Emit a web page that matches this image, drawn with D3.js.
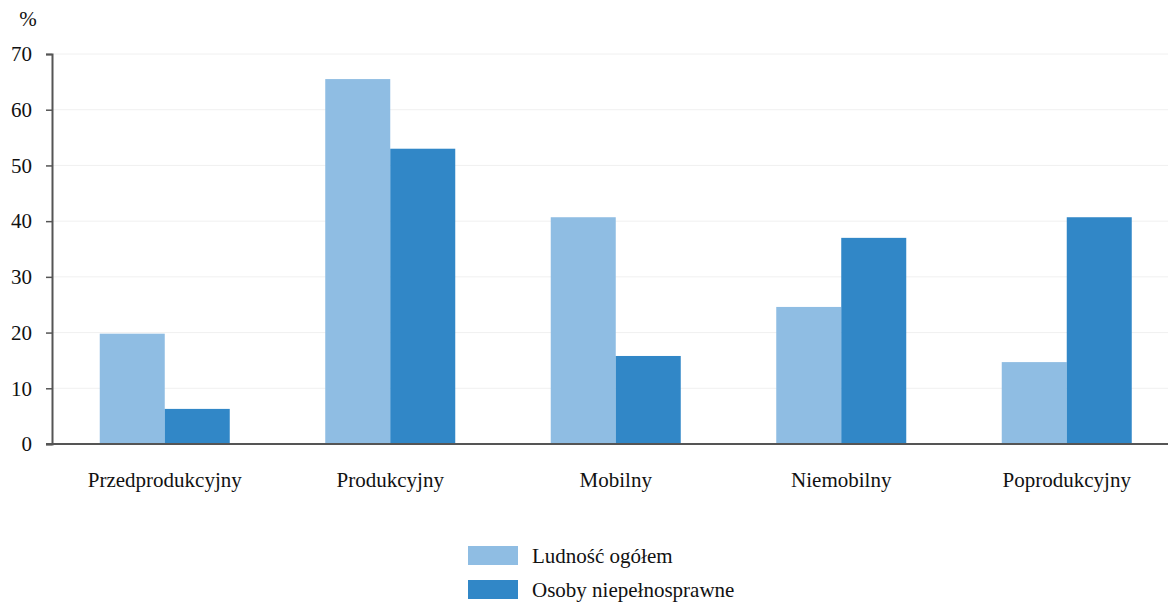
<!DOCTYPE html>
<html><head><meta charset="utf-8">
<script src="https://cdn.jsdelivr.net/npm/d3@7"></script>
<style>body{margin:0;background:#fff}svg{display:block}text{font-family:"Liberation Serif","Times New Roman",serif;fill:#111}</style>
</head><body><svg id="c" width="1168" height="605"></svg>
<script>
const categories = ["Przedprodukcyjny","Produkcyjny","Mobilny","Niemobilny","Poprodukcyjny"];
const seriesNames = ["Ludność ogółem","Osoby niepełnosprawne"];
const ludnosc = [19.8, 65.5, 40.7, 24.6, 14.7];
const niepelnosprawne = [6.3, 53.0, 15.8, 37.0, 40.7];
const yTicks = [0,10,20,30,40,50,60,70];
const colors = ["#8fbde3","#3187c7"];

const svg = d3.select("#c");
const m = {l:52, t:54, b:161};
const W = 1168, H = 605;
const step = 225.5;
const x = d3.scaleBand().domain(categories).range([m.l, m.l + step*categories.length]).paddingInner(0.4235).paddingOuter(0.21175);
const xs = d3.scaleBand().domain(seriesNames).range([0, x.bandwidth()]);
const y = d3.scaleLinear().domain([0,70]).range([H - m.b, m.t]);
const fs = "21px";

// grid
svg.append("g").selectAll("line").data(yTicks.filter(d=>d>0)).join("line")
  .attr("x1", m.l).attr("x2", W).attr("y1", d=>y(d)).attr("y2", d=>y(d))
  .attr("stroke","#f0f0f0").attr("stroke-width",1);

const data = categories.map((c,i)=>({c, vals:[ludnosc[i], niepelnosprawne[i]]}));
svg.append("g").selectAll("g").data(data).join("g")
  .attr("transform", d=>`translate(${x(d.c)},0)`)
  .selectAll("rect").data(d=>d.vals.map((v,j)=>({v,s:seriesNames[j],j}))).join("rect")
  .attr("x", d=>xs(d.s)).attr("width", xs.bandwidth())
  .attr("y", d=>y(d.v)).attr("height", d=>y(0)-y(d.v))
  .attr("fill", d=>colors[d.j]);

// y axis
const ya = svg.append("g").attr("transform",`translate(${m.l},0)`)
  .call(d3.axisLeft(y).tickValues(yTicks).tickSize(6).tickPadding(14));
ya.select(".domain").attr("stroke","#555").attr("stroke-width",2);
ya.selectAll(".tick line").attr("stroke","#555").attr("stroke-width",1.5);
ya.selectAll("text").style("font-size",fs).style("font-family","Liberation Serif").attr("fill","#111");

// x baseline
svg.append("line").attr("x1", m.l-6).attr("x2", W).attr("y1", y(0)).attr("y2", y(0))
  .attr("stroke","#555").attr("stroke-width",2);

// x labels
svg.append("g").selectAll("text").data(categories).join("text")
  .attr("x", d=>x(d)+x.bandwidth()/2).attr("y", 487)
  .attr("text-anchor","middle").style("font-size",fs).text(d=>d);

svg.append("text").attr("x", 28).attr("y", 26).attr("text-anchor","middle").style("font-size",fs).text("%");

// legend
const lg = svg.append("g").selectAll("g").data(seriesNames).join("g")
  .attr("transform",(d,i)=>`translate(468,${546 + i*34})`);
lg.append("rect").attr("width",50).attr("height",19).attr("fill",(d,i)=>colors[i]);
lg.append("text").attr("x",64).attr("y",17).style("font-size",fs).text(d=>d);
</script></body></html>
